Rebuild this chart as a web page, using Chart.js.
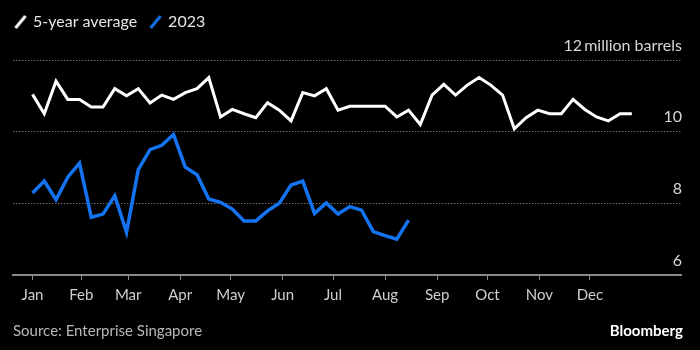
<!DOCTYPE html>
<html>
<head>
<meta charset="utf-8">
<script src="https://cdn.jsdelivr.net/npm/chart.js@4/dist/chart.umd.min.js"></script>
<style>
  html, body { margin: 0; padding: 0; background: #000; }
  canvas { display: block; }
</style>
</head>
<body>
<canvas id="c" width="700" height="350"></canvas>
<script>
// ---- Data (weekly, stockpiles in million barrels) ----
const seriesNames = ['5-year average', '2023'];
const fiveYearAverage = [11.04,10.5,11.41,10.9,10.9,10.69,10.69,11.2,11.0,11.2,
  10.8,11.02,10.9,11.09,11.2,11.51,10.41,10.62,10.5,10.39,
  10.81,10.6,10.3,11.09,11.0,11.2,10.6,10.71,10.71,10.71,
  10.71,10.41,10.6,10.2,11.02,11.32,11.02,11.3,11.51,11.3,
  11.02,10.08,10.39,10.6,10.5,10.5,10.9,10.62,10.41,10.3,
  10.5,10.5];
const year2023 = [8.29,8.62,8.1,8.73,9.12,7.61,7.7,8.21,7.19,8.94,
  9.5,9.62,9.92,9.01,8.8,8.12,8.03,7.84,7.51,7.51,
  7.79,8.0,8.51,8.62,7.72,8.01,7.7,7.91,7.81,7.21,
  7.1,7.0,7.53];
const firstWeekDay = 2;          // first weekly observation: day-of-year (0 = Jan 1)
const daysPerWeek = 7;
const monthLabels = ['Jan','Feb','Mar','Apr','May','Jun','Jul','Aug','Sep','Oct','Nov','Dec'];
const monthStartDays = [0,31,59,90,120,151,181,212,243,273,304,334];
const yTickValues = [6, 8, 10, 12];
const yTickLabels = ['6', '8', '10', '12\u2009million barrels'];
const sourceText = 'Source: Enterprise Singapore';
const brandText = 'Bloomberg';

// ---- Build points ----
const toPoints = arr => arr.map((v, i) => ({ x: firstWeekDay + i * daysPerWeek, y: v }));

const FONT = 'Lato';
const WHITE = '#ffffff';
const BLUE = '#1473f0';

function slashIcon(color) {
  const c = document.createElement('canvas');
  c.width = 14; c.height = 14;
  const g = c.getContext('2d');
  g.strokeStyle = color; g.lineWidth = 3; g.lineCap = 'butt';
  g.beginPath(); g.moveTo(2, 13); g.lineTo(12, 1); g.stroke();
  return c;
}

const legendSpace = {
  id: 'legendSpace',
  beforeInit(chart) {
    const orig = chart.legend.fit;
    chart.legend.fit = function () {
      orig.bind(chart.legend)();
      this.height = 60;
    };
  }
};

const footer = {
  id: 'footer',
  afterDraw(chart) {
    const ctx = chart.ctx;
    ctx.save();
    ctx.textBaseline = 'middle';
    ctx.fillStyle = '#b8b8b8';
    ctx.font = '15px ' + FONT;
    ctx.textAlign = 'left';
    ctx.fillText(sourceText, 13, 331);
    ctx.fillStyle = '#ffffff';
    ctx.font = 'bold 15px ' + FONT;
    ctx.textAlign = 'right';
    ctx.fillText(brandText, 683, 331);
    ctx.restore();
  }
};

new Chart(document.getElementById('c'), {
  type: 'line',
  data: {
    datasets: [
      { label: seriesNames[0], data: toPoints(fiveYearAverage), borderColor: WHITE, backgroundColor: WHITE,
        borderWidth: 3, pointRadius: 0, tension: 0, pointStyle: slashIcon(WHITE) },
      { label: seriesNames[1], data: toPoints(year2023), borderColor: BLUE, backgroundColor: BLUE,
        borderWidth: 3.5, pointRadius: 0, tension: 0, pointStyle: slashIcon(BLUE) }
    ]
  },
  options: {
    responsive: false,
    devicePixelRatio: 1,
    animation: false,
    layout: { padding: { left: 2, right: 17, top: 0, bottom: 40 } },
    plugins: {
      legend: {
        display: true, position: 'top', align: 'start',
        labels: { usePointStyle: true, pointStyleWidth: 9, padding: 14, color: '#e6e6e6',
          font: { family: FONT, size: 16 } }
      },
      tooltip: { enabled: false },
      title: { display: false }
    },
    scales: {
      x: {
        type: 'linear',
        min: -9.45, max: 388.3,
        afterBuildTicks(scale) {
          scale.ticks = monthStartDays.map(d => ({ value: Math.max(d, firstWeekDay) }));
        },
        ticks: {
          autoSkip: false, maxRotation: 0, padding: 6, color: '#cfcfcf',
          font: { family: FONT, size: 15 },
          callback: (v, i) => monthLabels[i]
        },
        grid: { drawOnChartArea: false, drawTicks: true, tickLength: 5, tickColor: '#8a8a8a', lineWidth: 1 },
        border: { display: true, color: '#8a8a8a', width: 2 }
      },
      y: {
        type: 'linear', position: 'right',
        min: 6, max: 12,
        afterBuildTicks(scale) { scale.ticks = yTickValues.map(v => ({ value: v })); },
        ticks: {
          mirror: true, padding: 1, labelOffset: -14.5, color: '#d6d6d6',
          font: { family: FONT, size: 16 },
          callback: (v, i) => yTickLabels[i]
        },
        grid: {
          drawTicks: false,
          color: ctx => (ctx.tick && ctx.tick.value === 6) ? 'rgba(0,0,0,0)' : '#9a9a9a',
          lineWidth: 1
        },
        border: { display: false, dash: [1, 2] }
      },
      yl: {
        type: 'linear', position: 'left', display: true,
        ticks: { display: false },
        grid: { display: false, drawTicks: false },
        border: { display: false },
        afterFit(scale) { scale.width = 11.3; }
      }
    }
  },
  plugins: [legendSpace, footer]
});
</script>
</body>
</html>
